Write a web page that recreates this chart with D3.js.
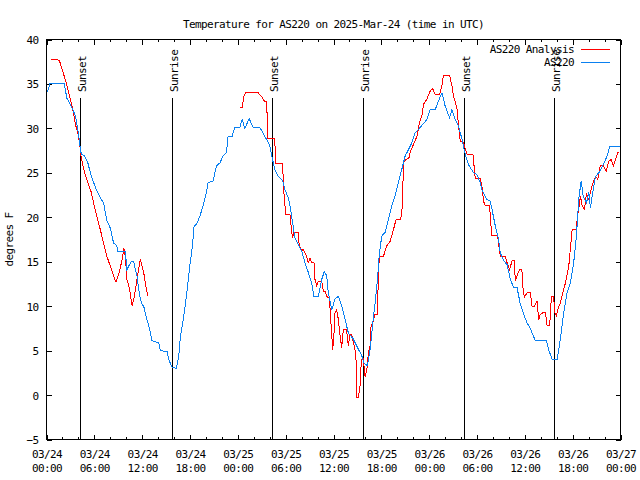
<!DOCTYPE html>
<html>
<head>
<meta charset="utf-8">
<script src="https://cdn.jsdelivr.net/npm/d3@7/dist/d3.min.js"></script>
<style>
  html, body { margin: 0; padding: 0; background: #fff; }
  svg text { font-family: "DejaVu Sans Mono", "Liberation Mono", monospace; font-size: 11px; letter-spacing: -0.6px; fill: #000; }
</style>
</head>
<body>
<svg id="chart" width="640" height="480"></svg>
<script>
// ---------------- data ----------------
const TITLE = "Temperature for AS220 on 2025-Mar-24 (time in UTC)";
const Y_LABEL = "degrees F";
const SERIES_NAMES = ["AS220 Analysis", "AS220"];
const START_UTC = Date.UTC(2025, 2, 24, 0, 0);
const END_UTC = Date.UTC(2025, 2, 27, 0, 0);
const yTickValues = [-5, 0, 5, 10, 15, 20, 25, 30, 35, 40];

// hours since 03/24 00:00 UTC
const sunEventHours = [4.18, 15.75, 28.27, 39.7, 52.36, 63.65];
const sunEventLabels = ["Sunset", "Sunrise", "Sunset", "Sunrise", "Sunset", "Sunrise"];

// AS220 (observed) — hours and temps
const obsHours = [0.0,0.16,0.46,2.22,2.55,2.89,3.30,3.64,3.81,3.93,4.15,4.36,4.78,5.19,5.62,6.25,6.87,7.16,7.58,8.00,8.21,8.42,8.83,8.92,9.89,10.09,10.30,10.72,10.93,11.35,11.56,11.77,11.98,12.19,12.60,12.94,13.23,14.07,14.29,15.12,15.33,15.75,16.30,16.59,16.80,17.22,17.55,17.97,18.31,18.51,18.81,19.23,19.64,20.07,20.27,20.90,21.32,21.74,22.15,22.58,22.78,23.28,23.62,24.25,24.54,24.88,25.42,25.92,26.77,27.39,27.81,28.02,28.36,28.65,29.07,29.62,29.91,30.32,30.54,30.95,31.16,31.58,32.01,32.42,32.84,33.26,33.55,34.09,34.52,34.85,35.15,35.35,35.78,36.19,36.61,37.03,37.45,37.86,38.49,38.92,39.33,39.55,39.83,40.25,40.59,40.93,41.22,41.51,41.76,42.06,42.47,42.89,43.32,43.73,44.14,44.57,44.99,45.40,45.83,46.24,46.87,47.71,48.13,48.76,49.17,49.60,50.01,50.55,50.85,51.27,51.68,52.11,52.52,52.94,53.57,53.99,54.41,54.62,55.25,55.67,55.88,56.30,56.71,56.92,57.34,57.77,58.18,58.60,59.02,59.44,59.85,60.28,60.69,60.91,61.32,62.70,62.99,63.42,64.05,64.46,64.88,65.30,65.72,66.13,66.47,66.76,67.06,67.32,67.73,68.02,68.23,68.57,68.86,69.28,69.83,70.33,70.66,71.92];
const obsTemps = [34.0,34.2,35.1,35.1,33.4,32.9,32.1,31.4,30.5,29.9,28.4,27.1,26.9,26.1,24.6,23.1,22.0,21.6,19.6,18.8,17.9,17.1,16.8,16.1,16.1,14.1,14.5,15.1,15.0,13.4,11.9,10.8,10.2,10.0,8.5,7.4,6.1,5.9,5.0,4.9,4.0,3.1,3.0,4.4,6.6,8.9,11.1,14.5,16.8,19.0,19.2,20.1,21.3,22.8,23.9,24.1,25.8,26.1,26.9,27.3,29.1,29.1,30.1,30.1,31.0,30.0,31.1,30.1,30.1,29.1,28.4,28.0,26.5,25.3,24.6,24.1,23.1,22.2,21.3,19.0,17.7,16.9,16.2,14.9,13.8,12.6,11.1,11.1,13.0,13.9,13.4,11.5,9.6,10.8,11.1,10.0,8.5,7.0,6.3,5.5,4.8,4.4,3.6,3.3,5.1,8.1,10.4,13.0,16.0,17.9,18.3,19.8,21.3,22.4,23.9,25.4,26.9,27.6,28.4,29.5,30.1,31.0,32.1,32.1,33.1,34.0,32.5,31.2,32.1,31.0,30.3,28.8,27.1,25.9,25.0,24.8,23.9,23.1,22.0,21.8,20.9,19.0,17.5,16.0,15.1,14.7,13.0,12.1,12.1,10.2,9.1,8.1,7.5,7.0,6.1,6.1,5.1,4.0,4.0,6.3,9.3,11.5,12.6,14.9,17.9,22.0,24.1,22.4,21.6,22.8,21.1,23.1,24.6,25.0,25.9,26.9,28.0,28.0];

// AS220 Analysis — hours and temps (null = missing data)
const anaHours = [0.59,1.22,1.63,2.05,2.48,2.89,3.30,3.64,3.93,4.15,4.36,4.78,5.19,5.62,5.91,6.32,6.75,7.16,7.58,8.00,8.42,8.71,9.05,9.46,9.70,9.89,10.09,10.43,10.74,11.02,11.35,11.77,12.19,12.53,12.73,18.0,24.25,24.54,24.75,24.97,26.55,26.97,27.27,27.61,27.78,28.53,28.65,28.78,29.62,29.72,29.91,30.03,30.54,30.75,30.88,31.04,31.58,31.70,32.01,32.21,32.42,32.63,32.84,33.05,33.26,33.55,33.68,33.89,34.09,34.52,34.72,34.93,35.15,35.48,35.78,35.90,36.07,36.19,36.40,36.61,36.73,37.03,37.23,37.63,37.86,38.07,38.29,38.49,38.70,38.86,38.92,39.12,39.33,39.42,39.55,39.67,39.83,39.96,40.17,40.38,40.59,40.72,40.93,41.22,41.51,41.64,41.76,42.26,42.68,43.10,43.52,43.86,44.44,44.65,44.77,45.07,45.49,45.61,46.03,46.46,46.78,47.08,47.29,47.71,48.13,48.42,48.76,49.30,49.60,49.80,50.55,50.85,51.06,51.48,51.68,51.90,52.31,52.74,53.49,53.78,54.41,54.62,54.82,55.04,55.58,55.79,55.88,56.58,56.92,57.55,57.77,58.09,58.39,58.68,58.81,59.10,59.35,59.63,59.78,59.94,60.28,60.69,60.91,61.20,61.53,61.74,61.95,62.37,62.58,62.79,63.12,63.33,63.62,63.74,63.96,64.13,64.46,64.88,65.09,65.51,65.93,66.47,66.56,66.81,66.97,67.18,67.47,67.73,68.02,68.23,68.57,68.86,69.15,69.45,69.87,70.21,70.53,70.82,71.11,71.53,71.74];
const anaTemps = [37.8,37.8,37.6,36.4,35.1,33.6,32.1,30.4,29.5,28.4,26.7,25.0,23.9,22.8,21.6,20.1,18.6,17.1,15.6,14.5,13.4,12.7,13.6,15.1,16.5,15.6,13.0,11.9,10.0,11.1,13.0,15.3,13.8,11.9,11.1,null,32.3,32.3,33.6,34.0,34.0,33.6,33.1,33.0,28.9,28.9,28.2,26.1,26.1,23.5,21.3,20.3,20.3,18.4,17.7,18.3,18.3,16.8,16.2,16.4,16.0,15.6,14.9,15.4,14.9,14.9,13.0,12.3,12.8,12.8,11.7,11.7,11.1,10.9,6.8,5.1,7.0,9.3,9.6,8.5,7.4,5.3,7.4,7.4,5.5,6.8,6.8,5.9,5.1,3.6,-0.3,-0.3,1.0,2.9,4.0,4.4,3.3,2.1,2.7,4.8,5.5,7.9,8.1,9.1,9.1,13.9,15.6,15.6,16.8,17.3,18.6,19.8,19.8,21.4,26.1,26.5,26.7,27.3,28.2,29.1,30.6,31.4,32.7,33.3,34.2,34.5,33.8,33.8,34.8,36.0,36.0,34.8,33.6,32.3,30.3,28.6,28.4,27.1,27.1,24.4,24.4,23.5,21.8,21.3,21.3,18.6,17.9,17.9,15.6,15.6,14.9,14.1,15.1,15.1,12.8,13.6,14.1,14.1,11.9,11.0,11.5,11.5,10.0,10.0,10.6,8.5,9.1,9.3,9.3,7.8,7.8,11.1,11.1,9.3,8.9,9.6,10.4,11.9,12.6,14.5,18.6,18.6,19.8,21.3,22.4,21.3,20.9,22.6,22.0,22.9,23.9,24.6,24.3,25.8,25.8,25.2,26.3,26.5,25.8,26.9,27.4];

// ---------------- chart ----------------
const svg = d3.select("#chart");
const L = 46.5, R = 620.5, T = 39.5, B = 439.5;
const RED = "#ff0000", BLUE = "#0a80f0";

const hourToDate = h => new Date(START_UTC + h * 3600e3);
const x = d3.scaleUtc().domain([new Date(START_UTC), new Date(END_UTC)]).range([L, R]);
const y = d3.scaleLinear().domain([-5, 40]).range([B, T]);

const obs = obsHours.map((h, i) => ({ t: hourToDate(h), v: obsTemps[i] }));
const ana = anaHours.map((h, i) => ({ t: hourToDate(h), v: anaTemps[i] }));

// title
svg.append("text").attr("x", (L + R) / 2).attr("y", 28)
  .attr("text-anchor", "middle").text(TITLE);

// y label
svg.append("text").attr("transform", `translate(13,${(T + B) / 2}) rotate(-90)`)
  .attr("text-anchor", "middle").text(Y_LABEL);

// axes ticks
const axG = svg.append("g").attr("shape-rendering", "crispEdges");
const styleAxis = g => { g.select(".domain").remove(); g.selectAll("line").attr("stroke", "#000"); };

axG.append("g").attr("transform", `translate(0,${B})`)
  .call(d3.axisBottom(x).ticks(d3.utcHour.every(2)).tickSizeInner(-2.5).tickSizeOuter(0).tickFormat(""))
  .call(styleAxis);
axG.append("g").attr("transform", `translate(0,${T})`)
  .call(d3.axisTop(x).ticks(d3.utcHour.every(2)).tickSizeInner(-2.5).tickSizeOuter(0).tickFormat(""))
  .call(styleAxis);
const bottomMajor = axG.append("g").attr("transform", `translate(0,${B})`)
  .call(d3.axisBottom(x).ticks(d3.utcHour.every(6)).tickSizeInner(-5).tickSizeOuter(0).tickFormat(""))
  .call(styleAxis);
axG.append("g").attr("transform", `translate(0,${T})`)
  .call(d3.axisTop(x).ticks(d3.utcHour.every(6)).tickSizeInner(-5).tickSizeOuter(0).tickFormat(""))
  .call(styleAxis);

const fmtDay = d3.utcFormat("%m/%d"), fmtTime = d3.utcFormat("%H:%M");
bottomMajor.selectAll(".tick").each(function(d) {
  const g = d3.select(this);
  g.append("text").attr("y", 18.5).attr("text-anchor", "middle").attr("stroke", "none").text(fmtDay(d));
  g.append("text").attr("y", 32.5).attr("text-anchor", "middle").attr("stroke", "none").text(fmtTime(d));
});

axG.append("g").attr("transform", `translate(${L},0)`)
  .call(d3.axisLeft(y).tickValues(yTickValues).tickSizeInner(-5).tickSizeOuter(0).tickPadding(8).tickFormat(d3.format("d")))
  .call(styleAxis)
  .call(g => g.selectAll("text").attr("dy", "0.36em"));
axG.append("g").attr("transform", `translate(${R},0)`)
  .call(d3.axisRight(y).tickValues(yTickValues).tickSizeInner(-5).tickSizeOuter(0).tickFormat(""))
  .call(styleAxis);
svg.selectAll(".tick text").attr("font-family", null).attr("font-size", null);
svg.selectAll("g[font-family]").attr("font-family", null).attr("font-size", null);

// sun event lines
const sunG = svg.append("g");
sunEventHours.forEach((h, i) => {
  const sx = Math.round(x(hourToDate(h))) + 0.5;
  sunG.append("line").attr("x1", sx).attr("x2", sx).attr("y1", 98).attr("y2", B)
    .attr("stroke", "#000").attr("shape-rendering", "crispEdges");
  sunG.append("text").attr("transform", `translate(${sx + 5.5},92) rotate(-90)`)
    .attr("text-anchor", "start").text(sunEventLabels[i]);
});

// series
const line = d3.line().defined(d => d.v !== null).x(d => x(d.t)).y(d => y(d.v));
svg.append("path").datum(ana).attr("d", line).attr("fill", "none")
  .attr("stroke", RED).attr("stroke-width", 1).attr("shape-rendering", "crispEdges");
svg.append("path").datum(obs).attr("d", line).attr("fill", "none")
  .attr("stroke", BLUE).attr("stroke-width", 1).attr("shape-rendering", "crispEdges");

// border
svg.append("rect").attr("x", L).attr("y", T).attr("width", R - L).attr("height", B - T)
  .attr("fill", "none").attr("stroke", "#000").attr("shape-rendering", "crispEdges");

// legend
const legend = svg.append("g");
[[SERIES_NAMES[0], RED, 49.5], [SERIES_NAMES[1], BLUE, 62.5]].forEach(([name, col, ly]) => {
  legend.append("text").attr("x", 574).attr("y", ly).attr("dy", "0.36em")
    .attr("text-anchor", "end").text(name);
  legend.append("line").attr("x1", 581).attr("x2", 610).attr("y1", ly).attr("y2", ly)
    .attr("stroke", col).attr("shape-rendering", "crispEdges");
});
</script>
</body>
</html>
